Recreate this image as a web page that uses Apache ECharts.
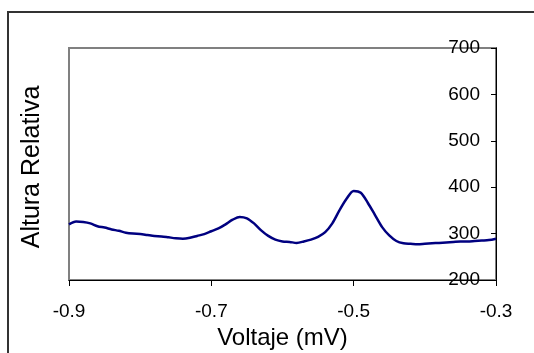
<!DOCTYPE html>
<html><head><meta charset="utf-8">
<script src="https://cdn.jsdelivr.net/npm/echarts@6/dist/echarts.min.js"></script>
<style>html,body{margin:0;padding:0;background:#fff}#c{width:534px;height:353px}</style>
</head><body><div id="c"></div>
<script>
const voltage = [-0.90,-0.89,-0.88,-0.87,-0.86,-0.85,-0.84,-0.83,-0.82,-0.81,-0.80,-0.79,-0.78,-0.77,-0.76,-0.75,-0.74,-0.73,-0.72,-0.71,-0.70,-0.69,-0.68,-0.67,-0.66,-0.65,-0.64,-0.63,-0.62,-0.61,-0.60,-0.59,-0.58,-0.57,-0.56,-0.55,-0.54,-0.53,-0.52,-0.51,-0.50,-0.49,-0.48,-0.47,-0.46,-0.45,-0.44,-0.43,-0.42,-0.41,-0.40,-0.39,-0.38,-0.37,-0.36,-0.35,-0.34,-0.33,-0.32,-0.31,-0.30];
const altura = [320,326,325,322,316,313,309,306,302,300,299,297,295,294,292,290,289,291,295,299,305,311,320,330,336,333,322,307,295,287,283,282,280,283,287,293,303,322,350,375,392,388,366,340,314,296,284,279,278,277,278,279,280,281,282,283,283,284,285,286,289];
const xTicks = [-0.9,-0.7,-0.5,-0.3];
const yTicks = [200,300,400,500,600,700];

const chart = echarts.init(document.getElementById('c'), null, {renderer:'canvas'});
const F = 'Liberation Sans, Arial, sans-serif';
chart.setOption({
  animation:false,
  backgroundColor:'#fff',
  grid:{left:69,right:38,top:48,bottom:73,containLabel:false,outerBoundsMode:'none',show:true,borderColor:'#808080',borderWidth:2,backgroundColor:'transparent'},
  xAxis:{type:'value',min:-0.9,max:-0.3,interval:0.1,
    name:'Voltaje (mV)',nameLocation:'middle',nameGap:38,
    nameTextStyle:{fontFamily:F,fontSize:24,color:'#000'},
    axisLine:{show:true,onZero:false,lineStyle:{color:'#000',width:1}},
    axisTick:{show:true,length:6,lineStyle:{color:'#000'},customValues:xTicks},
    axisLabel:{fontFamily:F,fontSize:19,color:'#000',margin:22,customValues:xTicks,
      formatter:v=>v.toFixed(1)},
    splitLine:{show:false}},
  yAxis:{type:'value',position:'right',min:200,max:700,interval:100,
    axisLine:{show:true,onZero:false,lineStyle:{color:'#000',width:1}},
    axisTick:{show:true,inside:true,length:5,lineStyle:{color:'#000'},customValues:yTicks},
    axisLabel:{inside:true,fontFamily:F,fontSize:19,color:'#000',margin:16,customValues:yTicks},
    splitLine:{show:false}},
  graphic:[
    {type:'rect',shape:{x:8,y:12,width:600,height:400},style:{fill:'none',stroke:'#333',lineWidth:2},silent:true,z:-1},
    {type:'text',x:32,y:167,rotation:Math.PI/2,style:{text:'Altura Relativa',fontFamily:F,fontSize:25,fill:'#000',align:'center',verticalAlign:'middle'}}
  ],
  series:[{type:'line',data:voltage.map((v,i)=>[v,altura[i]]),showSymbol:false,smooth:0.3,
    lineStyle:{color:'#000080',width:2.5}}]
});
</script></body></html>
